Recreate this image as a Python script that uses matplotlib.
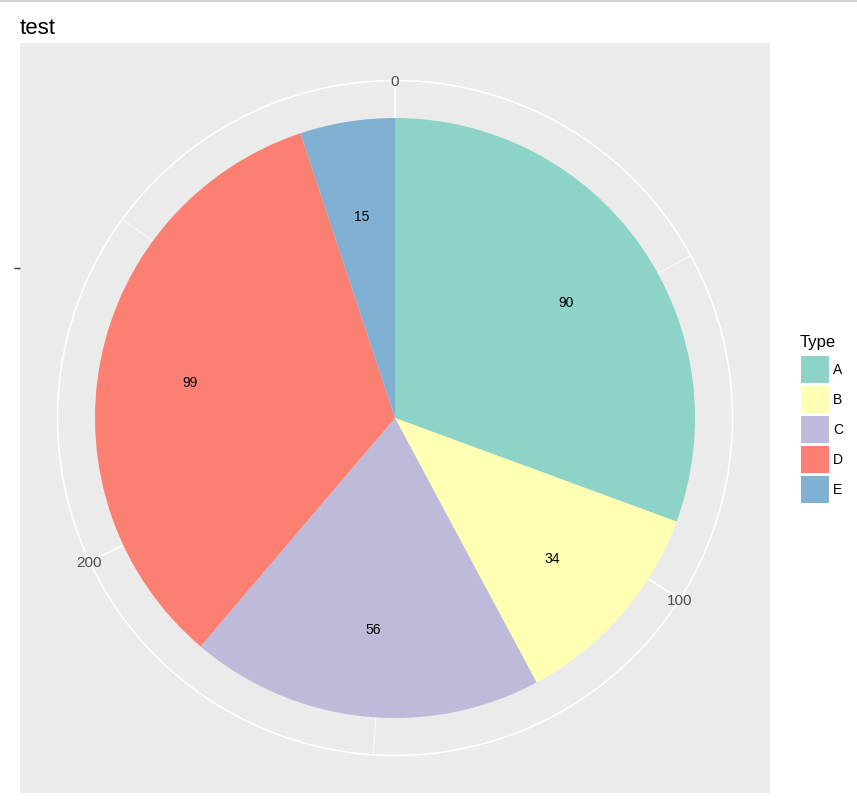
import numpy as np
import matplotlib
matplotlib.use('Agg')
import matplotlib.pyplot as plt
from matplotlib.patches import Circle, Rectangle
from matplotlib.lines import Line2D

types = ['A', 'B', 'C', 'D', 'E']
counts = [90, 34, 56, 99, 15]
colors = ['#8DD3C7', '#FFFFB3', '#BEBADA', '#FB8072', '#80B1D3']
major_breaks = [0, 100, 200]
minor_breaks = [50, 150, 250]

plt.rcParams['font.family'] = ['Liberation Sans', 'DejaVu Sans']

W, H = 857, 807
fig = plt.figure(figsize=(W / 100, H / 100), dpi=100)
ax = fig.add_axes([20 / W, 14 / H, 750 / W, 750 / H])
ax.set_facecolor('#EBEBEB')

total = sum(counts)


def theta_xy(v, r):
    a = 2 * np.pi * v / total
    return r * np.sin(a), r * np.cos(a)


# grid (coord_polar style)
ax.add_patch(Circle((0, 0), 0.45, fill=False, ec='white', lw=1.1, zorder=1))
for b in major_breaks:
    x, y = theta_xy(b, 0.45)
    ax.plot([0, x], [0, y], color='white', lw=1.1, zorder=1)
for b in minor_breaks:
    x, y = theta_xy(b, 0.45)
    ax.plot([0, x], [0, y], color='white', lw=0.6, zorder=1)

ax.pie(counts, colors=colors, startangle=90, counterclock=False, radius=0.4,
       frame=True, wedgeprops=dict(linewidth=0, zorder=2))

# slice labels
cum = np.cumsum(counts)
mids = cum - np.array(counts) / 2
for v, m in zip(counts, mids):
    x, y = theta_xy(m, 0.278)
    ax.text(x, y - 0.006, str(v), ha='center', va='center', fontsize=10,
            color='black', zorder=3)

# theta tick labels
for b in major_breaks:
    x, y = theta_xy(b, 0.45)
    ax.text(x, y - 0.002, str(b), ha='center', va='center', fontsize=11,
            color='#4D4D4D', zorder=3)

ax.set_xlim(-0.5, 0.5)
ax.set_ylim(-0.5, 0.5)
ax.set_aspect('auto')
for s in ax.spines.values():
    s.set_visible(False)
ax.set_xticks([])
ax.set_yticks([0.2])
ax.set_yticklabels([''])
ax.tick_params(axis='y', length=4.5, width=1, color='#333333', direction='out')

# legend, drawn in figure pixel coordinates
fig.text(800 / W, 1 - 347 / H, 'Type', fontsize=12, va='baseline', ha='left')
for i, (t, c) in enumerate(zip(types, colors)):
    top = 356 + 30 * i
    fig.add_artist(Rectangle((801 / W, 1 - (top + 27) / H), 28 / W, 27 / H,
                             transform=fig.transFigure, facecolor=c, edgecolor='none'))
    fig.text(833 / W, 1 - (top + 14) / H, t, fontsize=10, va='center', ha='left')

fig.text(20 / W, 1 - 34 / H, 'test', fontsize=16, va='baseline', ha='left')
fig.add_artist(Line2D([0, 1], [1 - 1 / H, 1 - 1 / H], color='#D0D0D0', lw=1.5))

fig.savefig('out.png', dpi=100)
